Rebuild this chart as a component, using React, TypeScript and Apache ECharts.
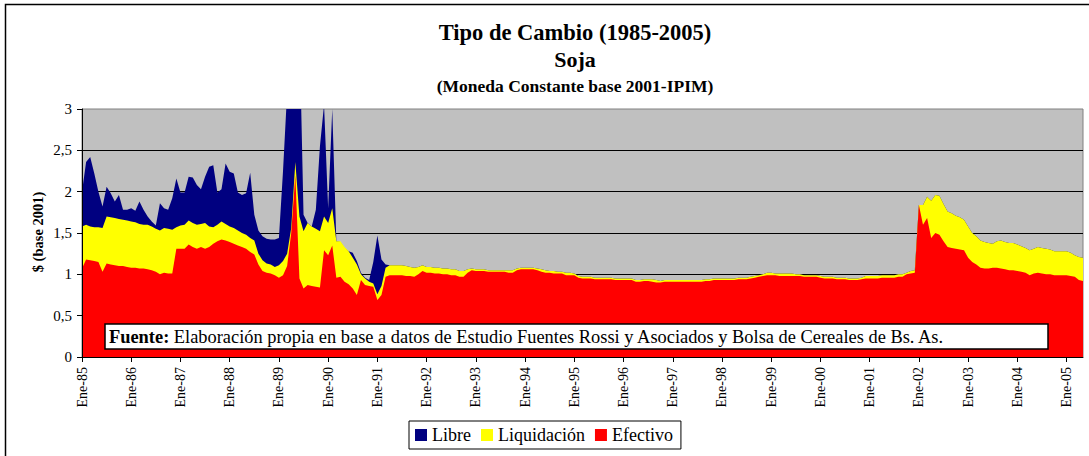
import React, { useEffect, useRef } from "react";
import * as echarts from "echarts";

const FONT = "'Liberation Serif', 'Times New Roman', serif";

const monthNames = ["Ene", "Feb", "Mar", "Abr", "May", "Jun", "Jul", "Ago", "Sep", "Oct", "Nov", "Dic"];
const yearLabels = ["85", "86", "87", "88", "89", "90", "91", "92", "93", "94", "95", "96", "97", "98", "99", "00", "01", "02", "03", "04", "05"];
const lastYearMonths = 5;

const categories: string[] = [];
yearLabels.forEach((y, yi) => {
  const n = yi === yearLabels.length - 1 ? lastYearMonths : 12;
  for (let m = 0; m < n; m++) categories.push(monthNames[m] + "-" + y);
});

const yTicks = ["0", "0,5", "1", "1,5", "2", "2,5", "3"];

// Libre (monthly, Ene-85 .. May-05)
const libre = [
  2.00, 2.36, 2.42, 2.22, 2.00, 1.82, 2.06, 1.98, 1.88, 1.96, 1.78, 1.78,
  1.80, 1.77, 1.88, 1.78, 1.70, 1.64, 1.59, 1.86, 1.80, 1.78, 1.92, 2.16,
  1.99, 1.99, 2.18, 2.17, 2.08, 2.03, 2.18, 2.30, 2.32, 1.99, 2.03, 2.34,
  2.24, 2.22, 1.99, 1.96, 1.98, 2.23, 1.72, 1.53, 1.46, 1.43, 1.42, 1.42,
  1.44, 2.25, 3.20, 3.40, 3.60, 4.00, 1.72, 1.62, 1.58, 1.78, 2.55, 3.05,
  1.80, 3.00, 1.40, 1.39, 1.32, 1.28, 1.26, 1.16, 1.02, 0.96, 0.93, 1.15,
  1.47, 1.18, 1.12, 1.11, 1.11, 1.11, 1.11, 1.10, 1.09, 1.08, 1.09, 1.11,
  1.09, 1.09, 1.08, 1.08, 1.07, 1.07, 1.06, 1.06, 1.04, 1.04, 1.06, 1.07,
  1.06, 1.06, 1.06, 1.05, 1.05, 1.05, 1.05, 1.05, 1.05, 1.05, 1.07, 1.08,
  1.08, 1.08, 1.08, 1.07, 1.06, 1.05, 1.04, 1.04, 1.03, 1.03, 1.02, 1.02,
  1.01, 0.98, 0.97, 0.97, 0.97, 0.96, 0.96, 0.96, 0.96, 0.96, 0.95, 0.95,
  0.95, 0.95, 0.95, 0.93, 0.93, 0.94, 0.94, 0.94, 0.93, 0.92, 0.93, 0.93,
  0.93, 0.93, 0.93, 0.93, 0.93, 0.93, 0.93, 0.93, 0.94, 0.94, 0.95, 0.95,
  0.95, 0.95, 0.95, 0.95, 0.96, 0.96, 0.96, 0.97, 0.98, 0.99, 1.00, 1.02,
  1.02, 1.01, 1.01, 1.01, 1.01, 1.01, 1.00, 1.00, 0.99, 0.99, 0.99, 0.99,
  0.98, 0.97, 0.97, 0.97, 0.96, 0.96, 0.96, 0.95, 0.95, 0.95, 0.96, 0.98,
  0.98, 0.98, 0.98, 0.99, 0.99, 0.99, 0.99, 1.00, 1.00, 1.02, 1.04, 1.05,
  1.84, 1.84, 1.94, 1.89, 1.96, 1.95, 1.85, 1.76, 1.74, 1.71, 1.69, 1.66,
  1.58, 1.50, 1.46, 1.41, 1.39, 1.38, 1.37, 1.40, 1.41, 1.39, 1.38, 1.38,
  1.36, 1.34, 1.32, 1.29, 1.31, 1.33, 1.32, 1.31, 1.30, 1.28, 1.28, 1.28,
  1.28, 1.26, 1.23, 1.21, 1.20,
];

// Liquidación
const liquidacion = [
  1.58, 1.60, 1.58, 1.57, 1.57, 1.56, 1.70, 1.69, 1.68, 1.67, 1.66, 1.65,
  1.64, 1.63, 1.61, 1.60, 1.60, 1.58, 1.55, 1.53, 1.56, 1.55, 1.54, 1.57,
  1.59, 1.60, 1.65, 1.62, 1.60, 1.61, 1.62, 1.58, 1.57, 1.60, 1.64, 1.61,
  1.58, 1.56, 1.53, 1.50, 1.48, 1.44, 1.41, 1.25, 1.17, 1.13, 1.12, 1.09,
  1.11, 1.16, 1.25, 1.56, 2.36, 1.70, 1.52, 1.62, 1.58, 1.55, 1.52, 1.70,
  1.62, 1.80, 1.40, 1.40, 1.33, 1.28, 1.20, 1.12, 1.00, 0.95, 0.91, 0.89,
  0.76, 0.86, 1.08, 1.11, 1.11, 1.11, 1.11, 1.10, 1.09, 1.08, 1.09, 1.11,
  1.09, 1.09, 1.08, 1.08, 1.07, 1.07, 1.06, 1.06, 1.04, 1.04, 1.06, 1.07,
  1.06, 1.06, 1.06, 1.05, 1.05, 1.05, 1.05, 1.05, 1.05, 1.05, 1.07, 1.08,
  1.08, 1.08, 1.08, 1.07, 1.06, 1.05, 1.04, 1.04, 1.03, 1.03, 1.02, 1.02,
  1.01, 0.98, 0.97, 0.97, 0.97, 0.96, 0.96, 0.96, 0.96, 0.96, 0.95, 0.95,
  0.95, 0.95, 0.95, 0.93, 0.93, 0.94, 0.94, 0.94, 0.93, 0.92, 0.93, 0.93,
  0.93, 0.93, 0.93, 0.93, 0.93, 0.93, 0.93, 0.93, 0.94, 0.94, 0.95, 0.95,
  0.95, 0.95, 0.95, 0.95, 0.96, 0.96, 0.96, 0.97, 0.98, 0.99, 1.00, 1.02,
  1.02, 1.01, 1.01, 1.01, 1.01, 1.01, 1.00, 1.00, 0.99, 0.99, 0.99, 0.99,
  0.98, 0.97, 0.97, 0.97, 0.96, 0.96, 0.96, 0.95, 0.95, 0.95, 0.96, 0.98,
  0.98, 0.98, 0.98, 0.99, 0.99, 0.99, 0.99, 1.00, 1.00, 1.02, 1.04, 1.05,
  1.84, 1.84, 1.94, 1.89, 1.96, 1.95, 1.85, 1.76, 1.74, 1.71, 1.69, 1.66,
  1.58, 1.50, 1.46, 1.41, 1.39, 1.38, 1.37, 1.40, 1.41, 1.39, 1.38, 1.38,
  1.36, 1.34, 1.32, 1.29, 1.31, 1.33, 1.32, 1.31, 1.30, 1.28, 1.28, 1.28,
  1.28, 1.26, 1.23, 1.21, 1.20,
];

// Efectivo
const efectivo = [
  1.07, 1.18, 1.17, 1.16, 1.15, 1.03, 1.13, 1.12, 1.11, 1.10, 1.10, 1.09,
  1.08, 1.08, 1.07, 1.07, 1.06, 1.05, 1.03, 1.00, 1.02, 1.01, 1.01, 1.31,
  1.31, 1.31, 1.36, 1.33, 1.31, 1.33, 1.31, 1.33, 1.37, 1.40, 1.42, 1.41,
  1.39, 1.37, 1.35, 1.33, 1.31, 1.27, 1.24, 1.12, 1.04, 1.02, 1.01, 0.99,
  0.96, 0.99, 1.10, 1.50, 2.20, 0.95, 0.83, 0.87, 0.86, 0.85, 0.84, 1.29,
  1.23, 1.35, 0.96, 0.97, 0.91, 0.88, 0.83, 0.75, 0.93, 0.87, 0.86, 0.85,
  0.69, 0.75, 0.97, 0.99, 0.99, 0.99, 0.99, 0.98, 0.98, 0.97, 1.00, 1.04,
  1.02, 1.02, 1.01, 1.01, 1.00, 1.00, 0.99, 0.99, 0.97, 0.97, 1.02, 1.05,
  1.04, 1.04, 1.04, 1.03, 1.03, 1.03, 1.03, 1.03, 1.02, 1.02, 1.05, 1.06,
  1.06, 1.06, 1.06, 1.05, 1.03, 1.02, 1.02, 1.01, 1.01, 1.01, 0.99, 0.99,
  0.99, 0.96, 0.95, 0.95, 0.95, 0.94, 0.94, 0.94, 0.94, 0.94, 0.93, 0.93,
  0.93, 0.93, 0.93, 0.91, 0.91, 0.92, 0.92, 0.91, 0.90, 0.90, 0.91, 0.91,
  0.91, 0.91, 0.91, 0.91, 0.91, 0.91, 0.91, 0.91, 0.92, 0.92, 0.93, 0.93,
  0.93, 0.93, 0.93, 0.93, 0.94, 0.94, 0.94, 0.95, 0.96, 0.97, 0.98, 0.99,
  0.99, 0.99, 0.98, 0.98, 0.98, 0.98, 0.98, 0.98, 0.97, 0.97, 0.97, 0.97,
  0.96, 0.95, 0.95, 0.95, 0.94, 0.94, 0.94, 0.93, 0.93, 0.93, 0.94, 0.95,
  0.95, 0.95, 0.95, 0.96, 0.96, 0.96, 0.96, 0.97, 0.97, 1.00, 1.01, 1.02,
  1.84, 1.60, 1.68, 1.44, 1.50, 1.48, 1.40, 1.33, 1.32, 1.31, 1.30, 1.29,
  1.20, 1.15, 1.12, 1.08, 1.07, 1.07, 1.08, 1.08, 1.07, 1.06, 1.05, 1.05,
  1.04, 1.03, 1.02, 0.99, 1.01, 1.02, 1.01, 1.00, 1.00, 0.99, 0.99, 0.99,
  0.99, 0.98, 0.97, 0.93, 0.92,
];

const titleText = "Tipo de Cambio (1985-2005)";
const subTitleText = "Soja";
const noteText = "(Moneda Constante base 2001-IPIM)";
const yAxisName = "$ (base 2001)";
const sourceBold = "Fuente:";
const sourceText = " Elaboración propia en base a datos de Estudio Fuentes Rossi y Asociados y Bolsa de Cereales de Bs. As.";

function areaSeries(name: string, data: number[], color: string) {
  return {
    name,
    type: "line",
    data,
    yAxisIndex: 0,
    symbol: "none",
    showSymbol: false,
    clip: true,
    lineStyle: { width: 0, color },
    itemStyle: { color },
    areaStyle: { color, opacity: 1 },
  };
}

export default function App() {
  const ref = useRef<HTMLDivElement>(null);
  useEffect(() => {
    if (!ref.current) return;
    const chart = echarts.init(ref.current, undefined, { renderer: "svg" });
    const yLabelFmt = (v: number) => yTicks[Math.round(v * 2)] ?? String(v);
    chart.setOption({
      animation: false,
      textStyle: { fontFamily: FONT },
      grid: {
        left: 82,
        right: 6,
        top: 109,
        bottom: 99,
        show: true,
        backgroundColor: "#C0C0C0",
        borderColor: "#808080",
        borderWidth: 1,
      },
      xAxis: {
        type: "category",
        data: categories,
        boundaryGap: false,
        z: 10,
        axisLine: { lineStyle: { color: "#000", width: 1 } },
        axisTick: { interval: 11, length: 5, lineStyle: { color: "#000" } },
        axisLabel: {
          interval: 11,
          rotate: 90,
          margin: 10,
          fontFamily: FONT,
          fontSize: 14,
          color: "#000",
        },
        splitLine: { show: false },
      },
      yAxis: [
        {
          type: "value",
          min: 0,
          max: 3,
          interval: 0.5,
          axisLine: { show: false },
          axisTick: { show: false },
          axisLabel: { show: false },
          splitLine: { show: true, showMinLine: false, showMaxLine: false, lineStyle: { color: "#000", width: 1 } },
        },
        {
          type: "value",
          position: "left",
          min: 0,
          max: 3,
          interval: 0.5,
          z: 10,
          axisLine: { show: true, lineStyle: { color: "#000", width: 1 } },
          axisTick: { show: true, length: 5, lineStyle: { color: "#000" } },
          axisLabel: { formatter: yLabelFmt, fontFamily: FONT, fontSize: 15, color: "#000", margin: 10 },
          splitLine: { show: false },
        },
      ],
      legend: {
        data: ["Libre", "Liquidación", "Efectivo"],
        left: 409,
        top: 421,
        orient: "horizontal",
        icon: "rect",
        itemWidth: 12,
        itemHeight: 12,
        itemGap: 10,
        padding: [5, 8, 5, 6],
        borderColor: "#000",
        borderWidth: 1,
        backgroundColor: "#fff",
        textStyle: { fontFamily: FONT, fontSize: 18, color: "#000" },
        selectedMode: false,
      },
      series: [
        areaSeries("Libre", libre, "#000080"),
        areaSeries("Liquidación", liquidacion, "#FFFF00"),
        areaSeries("Efectivo", efectivo, "#FF0000"),
      ],
      graphic: [
        {
          type: "rect",
          z: 100,
          shape: { x: 5.5, y: 4.5, width: 1100, height: 500 },
          style: { fill: "none", stroke: "#000", lineWidth: 1.5 },
        },
        {
          type: "text",
          z: 100,
          x: 575,
          y: 32,
          style: { text: titleText, fontFamily: FONT, fontWeight: "bold", fontSize: 22.5, fill: "#000", align: "center", verticalAlign: "middle" },
        },
        {
          type: "text",
          z: 100,
          x: 575,
          y: 59,
          style: { text: subTitleText, fontFamily: FONT, fontWeight: "bold", fontSize: 22, fill: "#000", align: "center", verticalAlign: "middle" },
        },
        {
          type: "text",
          z: 100,
          x: 575,
          y: 86,
          style: { text: noteText, fontFamily: FONT, fontWeight: "bold", fontSize: 17.5, fill: "#000", align: "center", verticalAlign: "middle" },
        },
        {
          type: "text",
          z: 100,
          x: 38,
          y: 232,
          rotation: Math.PI / 2,
          style: { text: yAxisName, fontFamily: FONT, fontWeight: "bold", fontSize: 14.5, fill: "#000", align: "center", verticalAlign: "middle" },
        },
        {
          type: "rect",
          z: 100,
          shape: { x: 105, y: 324, width: 943, height: 25 },
          style: { fill: "#fff", stroke: "#000", lineWidth: 1.5 },
        },
        {
          type: "text",
          z: 101,
          x: 109,
          y: 337,
          style: {
            text: "{b|" + sourceBold + "}{n|" + sourceText + "}",
            rich: {
              b: { fontFamily: FONT, fontWeight: "bold", fontSize: 18.4, fill: "#000" },
              n: { fontFamily: FONT, fontSize: 18.4, fill: "#000" },
            },
            fontFamily: FONT,
            fontSize: 18.4,
            fill: "#000",
            align: "left",
            verticalAlign: "middle",
          },
        },
      ],
    });
    return () => chart.dispose();
  }, []);
  return (
    <div
      ref={ref}
      style={{ position: "fixed", left: 0, top: 0, width: 1089, height: 456, background: "#fff" }}
    />
  );
}
